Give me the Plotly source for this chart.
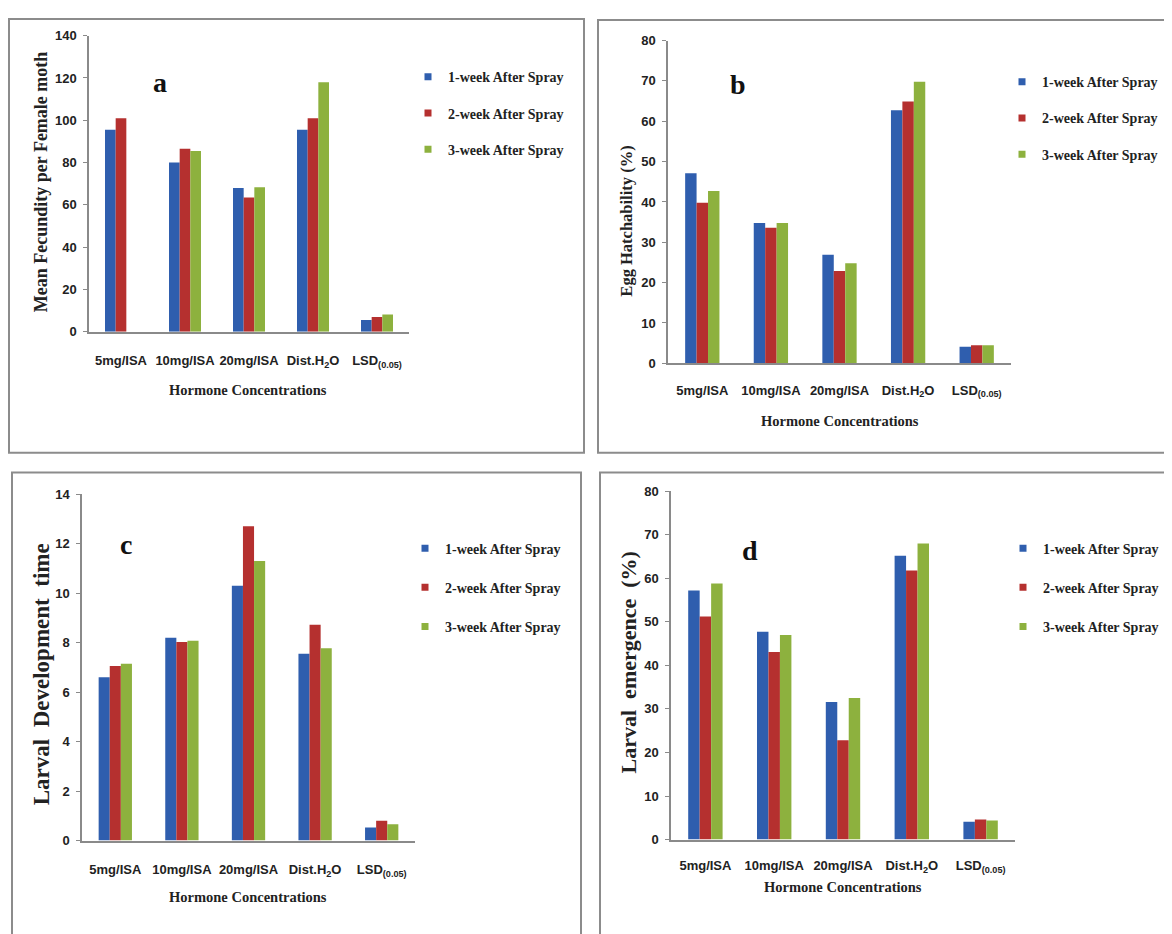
import plotly.graph_objects as go

W, H = 1172, 934
OFF = 8  # default page body margin

categories = ["5mg/ISA", "10mg/ISA", "20mg/ISA", "Dist.H<sub>2</sub>O", "LSD<sub>(0.05)</sub>"]
series_names = ["1-week After Spray", "2-week After Spray", "3-week After Spray"]

# panel a: Mean Fecundity per Female moth
fecundity_w1 = [95.5, 80, 68, 95.5, 5.6]
fecundity_w2 = [101, 86.5, 63.5, 101, 7.0]
fecundity_w3 = [None, 85.5, 68.3, 118, 8.2]

# panel b: Egg Hatchability (%)
hatch_w1 = [47.1, 34.8, 26.9, 62.7, 4.1]
hatch_w2 = [39.8, 33.6, 22.9, 64.9, 4.5]
hatch_w3 = [42.7, 34.8, 24.8, 69.8, 4.5]

# panel c: Larval Development time
devtime_w1 = [6.6, 8.2, 10.3, 7.55, 0.53]
devtime_w2 = [7.05, 8.02, 12.7, 8.72, 0.8]
devtime_w3 = [7.15, 8.08, 11.3, 7.77, 0.66]

# panel d: Larval emergence (%)
emerg_w1 = [57.2, 47.7, 31.6, 65.2, 4.1]
emerg_w2 = [51.2, 43.1, 22.8, 61.8, 4.6]
emerg_w3 = [58.8, 47.0, 32.5, 68.0, 4.4]

colors = ["#2F5EAE", "#B5302F", "#8DB13E"]

def px(x):
    return (x - OFF) / W

def py(y):
    return 1 - (y - OFF) / H

panels = [
    dict(key="", data=[fecundity_w1, fecundity_w2, fecundity_w3], xr=(89, 409), yr=(29, 330),
         rng=[0, 140], dtick=20, ytitle="Mean Fecundity per Female moth", ytx=41, yty=178, ytsize=18,
         xtx=248, xty=389, letter="a", lx=160, ly=77, leg=(408, 55), gap=15, stand=16,
         box=(9, 12, 584, 453)),
    dict(key="2", data=[hatch_w1, hatch_w2, hatch_w3], xr=(668, 1011), yr=(34, 362),
         rng=[0, 80], dtick=10, ytitle="Egg Hatchability (%)", ytx=627, yty=218, ytsize=16.5,
         xtx=840, xty=421, letter="b", lx=738, ly=79, leg=(1002, 60), gap=15, stand=14,
         box=(598, 13, 1169, 453)),
    dict(key="3", data=[devtime_w1, devtime_w2, devtime_w3], xr=(82, 415), yr=(495, 847),
         rng=[0, 14], dtick=2, ytitle="Larval  Development  time", ytx=41, yty=678, ytsize=23,
         xtx=248, xty=904, letter="c", lx=126, ly=546, leg=(405, 534), gap=18, stand=16,
         box=(12, 473, 581, 945)),
    dict(key="4", data=[emerg_w1, emerg_w2, emerg_w3], xr=(671, 1015), yr=(492, 846),
         rng=[0, 80], dtick=10, ytitle="Larval  emergence  (%)", ytx=628, yty=666, ytsize=22,
         xtx=843, xty=894, letter="d", lx=750, ly=552, leg=(1003, 534), gap=18, stand=13,
         box=(600, 473, 1169, 945)),
]

fig = go.Figure()
layout = dict(
    width=W, height=H, margin=dict(l=0, r=0, t=0, b=0),
    paper_bgcolor="white", plot_bgcolor="white",
    barmode="group", bargap=0.5, bargroupgap=0,
    showlegend=True,
)
annotations = []
shapes = []

tickfont = dict(family="Liberation Sans, Arial, sans-serif", size=13, color="#222", weight="bold")
serif = "Liberation Serif, Times New Roman, serif"

for p in panels:
    k = p["key"]
    xa = "x" + k
    ya = "y" + k
    legname = "legend" + k
    for i in range(3):
        fig.add_trace(go.Bar(
            x=categories, y=p["data"][i], name=series_names[i],
            marker=dict(color=colors[i], line=dict(width=0)),
            xaxis=xa, yaxis=ya, showlegend=False,
        ))
    # legend entries (small square swatches)
    for i in range(3):
        fig.add_trace(go.Scatter(
            x=[None], y=[None], mode="markers", name=series_names[i],
            marker=dict(symbol="square", size=7, color=colors[i]),
            xaxis=xa, yaxis=ya, legend=legname, showlegend=True,
            legendgroup=f"{legname}_{i}",
        ))
    layout["xaxis" + k] = dict(
        domain=[px(p["xr"][0]), px(p["xr"][1])], anchor=ya,
        showline=True, linecolor="#8A8A8A", linewidth=1.5,
        ticks="", tickfont=tickfont, ticklabelstandoff=p["stand"],
        showgrid=False, zeroline=False, fixedrange=True,
    )
    layout["yaxis" + k] = dict(
        domain=[py(p["yr"][1]), py(p["yr"][0])], anchor=xa,
        range=p["rng"], dtick=p["dtick"],
        showline=True, linecolor="#8A8A8A", linewidth=1.5,
        ticks="outside", ticklen=4, tickcolor="#8A8A8A", tickwidth=1.2,
        tickfont=tickfont, ticklabelstandoff=4,
        showgrid=False, zeroline=False, fixedrange=True,
    )
    layout[legname] = dict(
        x=px(p["leg"][0]), y=py(p["leg"][1]), xanchor="left", yanchor="top",
        bgcolor="rgba(0,0,0,0)", traceorder="grouped", tracegroupgap=p["gap"],
        itemwidth=30,
        font=dict(family=serif, size=14, color="#222", weight="bold"),
    )
    annotations.append(dict(
        xref="paper", yref="paper", x=px(p["ytx"]), y=py(p["yty"]),
        text=p["ytitle"], textangle=-90, showarrow=False,
        font=dict(family=serif, size=p["ytsize"], color="#222", weight="bold"),
        xanchor="center", yanchor="middle",
    ))
    annotations.append(dict(
        xref="paper", yref="paper", x=px(p["xtx"]), y=py(p["xty"]),
        text="Hormone Concentrations", showarrow=False,
        font=dict(family=serif, size=14.5, color="#222", weight="bold"),
        xanchor="center", yanchor="middle",
    ))
    annotations.append(dict(
        xref="paper", yref="paper", x=px(p["lx"]), y=py(p["ly"]),
        text=p["letter"], showarrow=False,
        font=dict(family=serif, size=28, color="#111", weight="bold"),
        xanchor="center", yanchor="middle",
    ))
    x0, y0, x1, y1 = p["box"]
    shapes.append(dict(
        type="rect", xref="paper", yref="paper",
        x0=px(x0), x1=px(x1), y0=py(y1), y1=py(y0),
        line=dict(color="#8C8C8C", width=2), fillcolor="rgba(0,0,0,0)", layer="below",
    ))

layout["annotations"] = annotations
layout["shapes"] = shapes
fig.update_layout(**layout)

fig.write_html("out.html")
